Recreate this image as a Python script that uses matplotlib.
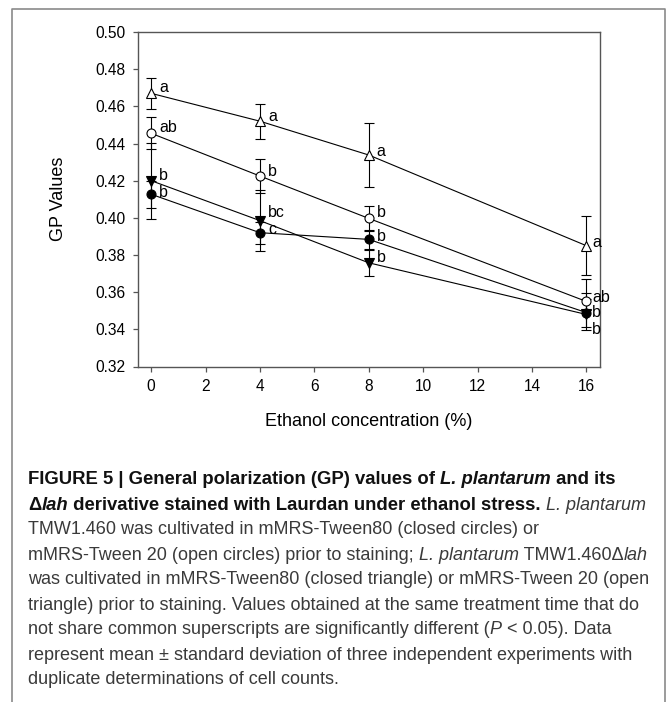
import matplotlib
matplotlib.use("Agg")
import matplotlib.pyplot as plt
from matplotlib.transforms import IdentityTransform
from matplotlib.lines import Line2D

# данные
ethanol = [0, 4, 8, 16]

wt_t80 = [0.4127, 0.392, 0.3884, 0.349]      # закрытые кружки
wt_t80_lo = [0.0073, 0.006, 0.005, 0.008]
wt_t80_hi = [0.0073, 0.006, 0.005, 0.018]

wt_t20 = [0.4455, 0.4225, 0.3997, 0.355]     # открытые кружки
wt_t20_err = [0.0085, 0.009, 0.0068, 0.0044]

lah_t80 = [0.420, 0.3985, 0.3758, 0.348]     # закрытые треугольники
lah_t80_err = [0.0205, 0.0165, 0.007, 0.0085]

lah_t20 = [0.467, 0.452, 0.4338, 0.385]      # открытые треугольники
lah_t20_err = [0.0085, 0.0095, 0.0173, 0.016]

wt_t80_letters = ["b", "c", "b", "b"]
wt_t20_letters = ["ab", "b", "b", "ab"]
lah_t80_letters = ["b", "bc", "b", "b"]
lah_t20_letters = ["a", "a", "a", "a"]

yticks = [0.32, 0.34, 0.36, 0.38, 0.40, 0.42, 0.44, 0.46, 0.48, 0.50]
xticks = [0, 2, 4, 6, 8, 10, 12, 14, 16]

plt.rcParams['font.family'] = ['Liberation Sans', 'DejaVu Sans']

fig = plt.figure(figsize=(6.7, 7.02), dpi=100)
ax = fig.add_axes([137.5 / 670, 1 - 366.5 / 702, 462.5 / 670, 334.5 / 702])

series = [
    (wt_t80, [wt_t80_lo, wt_t80_hi], "o", "black", 6.5, wt_t80_letters, [2, 3, 3, 0]),
    (wt_t20, wt_t20_err, "o", "white", 6.5, wt_t20_letters, [6, 5, 6, 4]),
    (lah_t80, lah_t80_err, "v", "black", 7.8, lah_t80_letters, [5, 8, 5, -15]),
    (lah_t20, lah_t20_err, "^", "white", 7.8, lah_t20_letters, [6, 5, 4, 3]),
]

for vals, err, mk, fc, ms, letters, dys in series:
    ax.errorbar(ethanol, vals, yerr=err, fmt="none", ecolor="black",
                elinewidth=0.8, capsize=3.4, capthick=0.8, zorder=2)
    ax.plot(ethanol, vals, color="black", lw=0.8, marker=mk, ms=ms,
            mfc=fc, mec="black", mew=0.8, zorder=3)
    for xi, yi, lab, dy in zip(ethanol, vals, letters, dys):
        dx = 6 if xi == 16 else 8
        ax.annotate(lab, (xi, yi), xytext=(dx / 1.389, dy / 1.389),
                    textcoords="offset points", ha="left", va="center",
                    fontsize=11.5, annotation_clip=False)

ax.set_xlim(-0.5, 16.5)
ax.set_ylim(0.32, 0.50)
ax.set_xticks(xticks)
ax.set_yticks(yticks)
ax.set_yticklabels([f"{v:.2f}" for v in yticks])
ax.tick_params(direction="out", length=3.8, width=0.9, color="#555555",
               labelsize=11.2, pad=5)
for sp in ax.spines.values():
    sp.set_color("#555555")
    sp.set_linewidth(1.0)
ax.set_xlabel("Ethanol concentration (%)", fontsize=13, labelpad=14)
ax.set_ylabel("GP Values", fontsize=13, labelpad=20)

# рамка вокруг рисунка (без нижней стороны)
frame = Line2D([11.5, 11.5, 665, 665], [0, 702 - 8.5, 702 - 8.5, 0],
               transform=IdentityTransform(), color="#8a8a8a", lw=1.2)
fig.add_artist(frame)

# подпись к рисунку, по кусочкам с разным начертанием
caption = [
    [("FIGURE 5 | General polarization (GP) values of ", "bold", "normal"),
     ("L. plantarum", "bold", "italic"), (" and its", "bold", "normal")],
    [("\u0394", "bold", "normal"), ("lah", "bold", "italic"),
     (" derivative stained with Laurdan under ethanol stress. ", "bold", "normal"),
     ("L. plantarum", "normal", "italic")],
    [("TMW1.460 was cultivated in mMRS-Tween80 (closed circles) or", "normal", "normal")],
    [("mMRS-Tween 20 (open circles) prior to staining; ", "normal", "normal"),
     ("L. plantarum", "normal", "italic"), (" TMW1.460\u0394", "normal", "normal"),
     ("lah", "normal", "italic")],
    [("was cultivated in mMRS-Tween80 (closed triangle) or mMRS-Tween 20 (open", "normal", "normal")],
    [("triangle) prior to staining. Values obtained at the same treatment time that do", "normal", "normal")],
    [("not share common superscripts are significantly different (", "normal", "normal"),
     ("P", "normal", "italic"), (" < 0.05). Data", "normal", "normal")],
    [("represent mean \u00b1 standard deviation of three independent experiments with", "normal", "normal")],
    [("duplicate determinations of cell counts.", "normal", "normal")],
]

fig.canvas.draw()
renderer = fig.canvas.get_renderer()
cap_sizes = {"bold": 13.3, "normal": 12.95}


def run_width(s, weight, style):
    # ширина с учётом пробелов по краям
    fs = cap_sizes[weight]
    t1 = fig.text(0, 0, "|" + s + "|", fontsize=fs, weight=weight, style=style)
    t2 = fig.text(0, 0, "||", fontsize=fs, weight=weight, style=style)
    w = t1.get_window_extent(renderer).width - t2.get_window_extent(renderer).width
    t1.remove()
    t2.remove()
    return w


for i, line in enumerate(caption):
    x = 28
    y = 702 - (480 + 25 * i)
    for s, weight, style in line:
        col = "#111111" if weight == "bold" else "#3a3a3a"
        fig.text(x, y, s, fontsize=cap_sizes[weight], weight=weight, style=style,
                 color=col, transform=IdentityTransform(), va="center", ha="left")
        x += run_width(s, weight, style)

fig.savefig("out.png", dpi=100)
